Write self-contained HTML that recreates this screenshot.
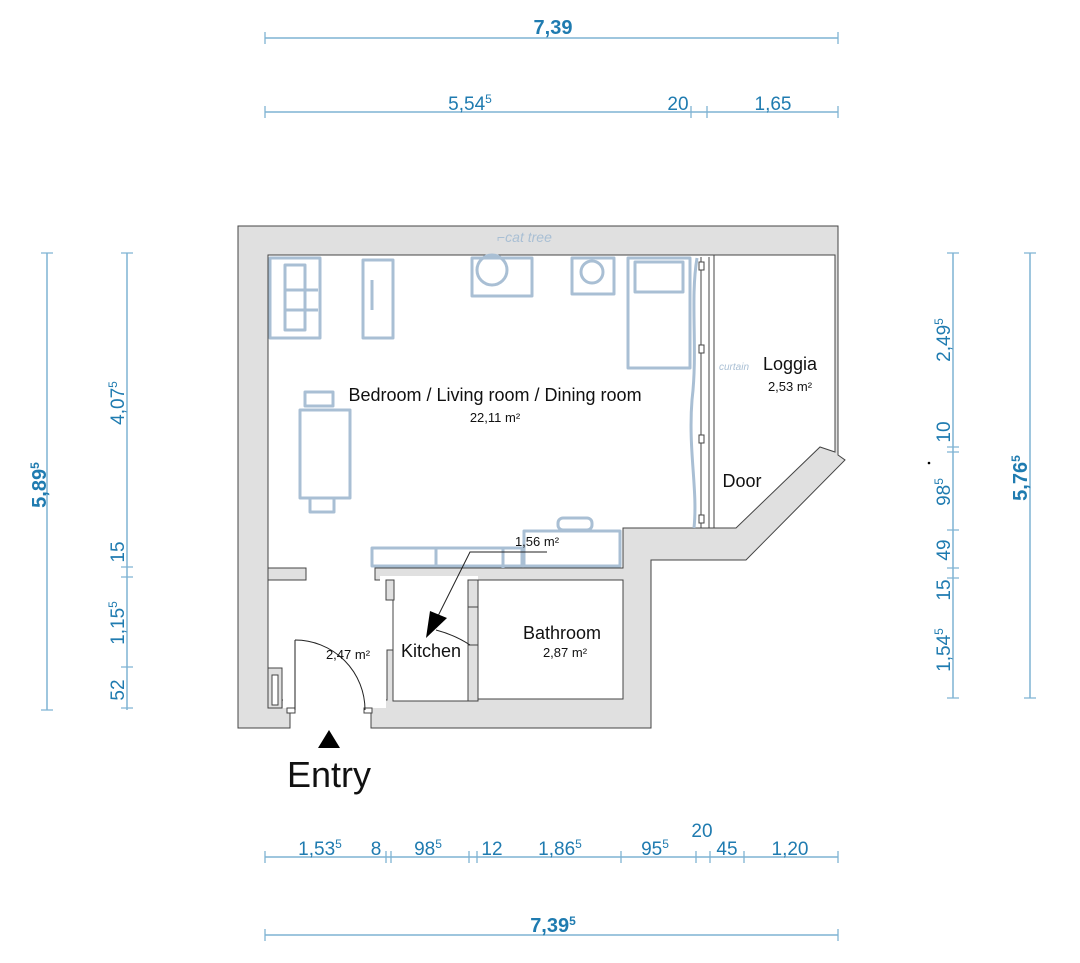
<!DOCTYPE html>
<html><head><meta charset="utf-8"><style>
html,body{margin:0;padding:0;background:#fff;}
svg{display:block;}
.d{fill:#1f7bb0;font-family:"Liberation Sans",sans-serif;font-size:19px;}
.b{font-weight:bold;font-size:20px;}
.ln{stroke:#7fb3d3;stroke-width:1.5;fill:none;}
.w{fill:#e0e0e0;stroke:#444;stroke-width:1;}
.f{fill:none;stroke:#a9bfd4;stroke-width:3;stroke-linejoin:round;}
.t{font-family:"Liberation Sans",sans-serif;fill:#111;}
</style></head><body>
<svg width="1080" height="963" viewBox="0 0 1080 963" xmlns="http://www.w3.org/2000/svg">
<polygon class="w" points="238,226 838,226 838,455 845,460 746,560 651,560 651,728 371,728 371,708 290,708 290,728 238,728"/>
<polygon points="268,255 714,255 714,528 623,528 623,568 375,568 375,580 387,580 387,600 393,600 393,650 387,650 387,700 268,700" fill="#fff" stroke="#444" stroke-width="1"/>
<rect x="268" y="568" width="38" height="12" fill="#e0e0e0" stroke="#444" stroke-width="1"/>
<rect x="269" y="569" width="36" height="10" fill="#e0e0e0"/>
<rect x="393" y="580" width="75" height="121" fill="#fff" stroke="#444" stroke-width="1"/>
<rect x="380" y="576" width="98" height="5" fill="#fff"/>
<rect x="386" y="580" width="8" height="20" fill="#e0e0e0" stroke="#444" stroke-width="1"/>
<rect x="468" y="580" width="10" height="27" fill="#e0e0e0" stroke="#444" stroke-width="1"/>
<rect x="468" y="645" width="10" height="56" fill="#e0e0e0" stroke="#444" stroke-width="1"/>
<rect x="478" y="580" width="145" height="119" fill="#fff" stroke="#444" stroke-width="1"/>
<polygon points="714,255 835,255 835,452 820,447 736,528 714,528" fill="#fff" stroke="#444" stroke-width="1"/>
<rect x="283" y="699" width="103" height="9" fill="#fff"/>
<rect x="291" y="700" width="79" height="29" fill="#fff"/>
<rect x="268" y="668" width="14" height="40" fill="#e0e0e0" stroke="#444" stroke-width="1"/>
<rect x="272" y="675" width="6" height="30" fill="#fff" stroke="#444" stroke-width="1"/>
<rect x="287" y="708" width="8" height="5" fill="#fff" stroke="#444" stroke-width="1"/>
<rect x="364" y="708" width="8" height="5" fill="#fff" stroke="#444" stroke-width="1"/>
<line x1="701" y1="257" x2="701" y2="528" stroke="#444" stroke-width="1"/>
<line x1="709" y1="257" x2="709" y2="528" stroke="#444" stroke-width="1"/>
<rect x="699" y="262" width="5" height="8" fill="#fff" stroke="#444"/>
<rect x="699" y="345" width="5" height="8" fill="#fff" stroke="#444"/>
<rect x="699" y="435" width="5" height="8" fill="#fff" stroke="#444"/>
<rect x="699" y="515" width="5" height="8" fill="#fff" stroke="#444"/>
<path d="M295,640 A70,70 0 0 1 365,710" fill="none" stroke="#222" stroke-width="1"/>
<line x1="295" y1="640" x2="295" y2="710" stroke="#222"/>
<path d="M436,630 Q455,635 470,645" fill="none" stroke="#222" stroke-width="1"/>
<g class="f">
<rect x="270" y="258" width="50" height="80"/><rect x="285" y="265" width="20" height="65"/><line x1="285" y1="290" x2="318" y2="290"/><line x1="285" y1="310" x2="318" y2="310"/>
<rect x="363" y="260" width="30" height="78"/><line x1="372" y1="280" x2="372" y2="310"/>
<rect x="472" y="258" width="60" height="38"/><circle cx="492" cy="270" r="15"/>
<rect x="572" y="258" width="42" height="36"/><circle cx="592" cy="272" r="11"/>
<rect x="628" y="258" width="62" height="110"/><rect x="635" y="262" width="48" height="30"/>
<rect x="300" y="410" width="50" height="88"/><rect x="305" y="392" width="28" height="14"/><rect x="310" y="498" width="24" height="14"/>
<rect x="372" y="548" width="150" height="18"/><line x1="436" y1="548" x2="436" y2="566"/><line x1="503" y1="548" x2="503" y2="568"/>
<rect x="524" y="531" width="96" height="35"/><rect x="558" y="518" width="34" height="12" rx="5"/>
<path d="M697,258 C690,300 698,350 692,400 C688,450 698,490 694,528"/>
</g>
<text x="497" y="242" font-family="Liberation Sans,sans-serif" font-size="14" fill="#a9bfd4" font-style="italic">⌐cat tree</text>
<text x="719" y="370" font-family="Liberation Sans,sans-serif" font-size="10" fill="#a9bfd4" font-style="italic">curtain</text>
<polyline points="547,552 470,552 436,620" fill="none" stroke="#222" stroke-width="1"/>
<polygon points="430,611 447,618 426,638" fill="#000"/>
<polygon points="329,730 318,748 340,748" fill="#000"/>
<text class="t" x="495" y="401" font-size="18" text-anchor="middle">Bedroom / Living room / Dining room</text>
<text class="t" x="495" y="422" font-size="13" text-anchor="middle">22,11 m²</text>
<text class="t" x="790" y="370" font-size="18" text-anchor="middle">Loggia</text>
<text class="t" x="790" y="391" font-size="13" text-anchor="middle">2,53 m²</text>
<text class="t" x="742" y="487" font-size="18" text-anchor="middle">Door</text>
<text class="t" x="537" y="546" font-size="13" text-anchor="middle">1,56 m²</text>
<text class="t" x="562" y="639" font-size="18" text-anchor="middle">Bathroom</text>
<text class="t" x="565" y="657" font-size="13" text-anchor="middle">2,87 m²</text>
<text class="t" x="431" y="657" font-size="18" text-anchor="middle">Kitchen</text>
<text class="t" x="348" y="659" font-size="13" text-anchor="middle">2,47 m²</text>
<text class="t" x="329" y="787" font-size="36" text-anchor="middle">Entry</text>
<circle cx="929" cy="463" r="1.3" fill="#000"/>
<g class="ln">
<line x1="265" y1="38" x2="838" y2="38"/>
<line x1="265" y1="112" x2="838" y2="112"/>
<line x1="265" y1="857" x2="838" y2="857"/>
<line x1="265" y1="935" x2="838" y2="935"/>
<line x1="47" y1="253" x2="47" y2="710"/>
<line x1="127" y1="253" x2="127" y2="710"/>
<line x1="953" y1="253" x2="953" y2="698"/>
<line x1="1030" y1="253" x2="1030" y2="698"/>
</g>
<g stroke="#7fb3d3" stroke-width="1.3">
<path d="M265,32v12M838,32v12M265,106v12M691,106v12M707,106v12M838,106v12M265,929v12M838,929v12"/>
<path d="M265,851v12M386,851v12M391,851v12M469,851v12M477,851v12M621,851v12M696,851v12M710,851v12M744,851v12M838,851v12"/>
<path d="M41,253h12M41,710h12M121,253h12M121,567h12M121,577h12M121,667h12M121,708h12"/>
<path d="M947,253h12M947,447h12M947,452h12M947,530h12M947,568h12M947,578h12M947,698h12M1024,253h12M1024,698h12"/>
</g>
<text class="d b" x="553" y="34" text-anchor="middle">7,39</text>
<text class="d" x="470" y="110" text-anchor="middle">5,54<tspan font-size="12" dy="-7">5</tspan></text>
<text class="d" x="678" y="110" text-anchor="middle">20</text>
<text class="d" x="773" y="110" text-anchor="middle">1,65</text>
<text class="d" x="320" y="855" text-anchor="middle">1,53<tspan font-size="12" dy="-7">5</tspan></text>
<text class="d" x="376" y="855" text-anchor="middle">8</text>
<text class="d" x="428" y="855" text-anchor="middle">98<tspan font-size="12" dy="-7">5</tspan></text>
<text class="d" x="492" y="855" text-anchor="middle">12</text>
<text class="d" x="560" y="855" text-anchor="middle">1,86<tspan font-size="12" dy="-7">5</tspan></text>
<text class="d" x="655" y="855" text-anchor="middle">95<tspan font-size="12" dy="-7">5</tspan></text>
<text class="d" x="702" y="837" text-anchor="middle">20</text>
<text class="d" x="727" y="855" text-anchor="middle">45</text>
<text class="d" x="790" y="855" text-anchor="middle">1,20</text>
<text class="d b" x="553" y="932" text-anchor="middle">7,39<tspan font-size="12" dy="-7">5</tspan></text>
<g transform="rotate(-90)">
<text class="d b" x="-485" y="46" text-anchor="middle">5,89<tspan font-size="12" dy="-7">5</tspan></text>
<text class="d" x="-403" y="124" text-anchor="middle">4,07<tspan font-size="12" dy="-7">5</tspan></text>
<text class="d" x="-552" y="124" text-anchor="middle">15</text>
<text class="d" x="-623" y="124" text-anchor="middle">1,15<tspan font-size="12" dy="-7">5</tspan></text>
<text class="d" x="-690" y="124" text-anchor="middle">52</text>
<text class="d" x="-340" y="950" text-anchor="middle">2,49<tspan font-size="12" dy="-7">5</tspan></text>
<text class="d" x="-432" y="950" text-anchor="middle">10</text>
<text class="d" x="-492" y="950" text-anchor="middle">98<tspan font-size="12" dy="-7">5</tspan></text>
<text class="d" x="-550" y="950" text-anchor="middle">49</text>
<text class="d" x="-590" y="950" text-anchor="middle">15</text>
<text class="d" x="-650" y="950" text-anchor="middle">1,54<tspan font-size="12" dy="-7">5</tspan></text>
<text class="d b" x="-478" y="1027" text-anchor="middle">5,76<tspan font-size="12" dy="-7">5</tspan></text>
</g>
</svg>
</body></html>
